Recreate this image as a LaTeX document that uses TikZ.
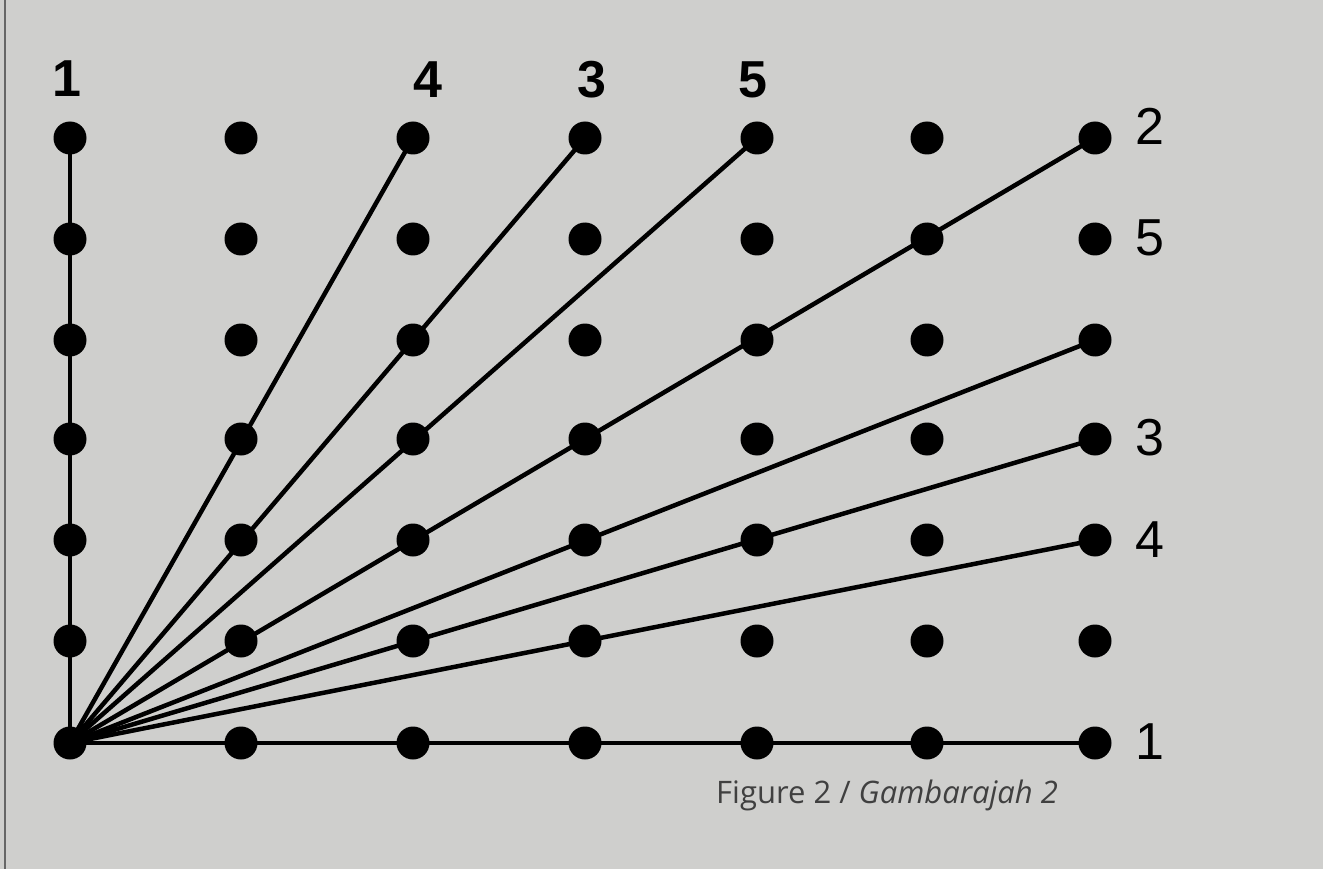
\documentclass[tikz,border=0pt]{standalone}
\usepackage{fontspec}
\setmainfont{Liberation Sans}
\newfontfamily\capfont{Open Sans}
\begin{document}
\begin{tikzpicture}[x=1pt,y=-1pt,
  dotnode/.style={circle,fill=black,inner sep=0pt,minimum size=33pt},
  ray/.style={line width=4.5pt,black},
  toplab/.style={font=\fontsize{52}{52}\selectfont\bfseries,inner sep=0pt},
  rightlab/.style={font=\fontsize{52}{52}\selectfont,inner sep=0pt},
  caption/.style={font=\capfont\fontsize{31}{31}\selectfont,text=black!75,inner sep=0pt,anchor=west}]
\definecolor{bg}{RGB}{207,207,205}
\useasboundingbox (0,0) rectangle (1323,869);
\fill[bg] (0,0) rectangle (1323,869);
\draw[line width=2pt,black!60] (5,0) -- (5,869);
% grid of dots
\foreach \i/\x in {0/70,1/241,2/413,3/585,4/757,5/927,6/1095}{
  \foreach \j/\y in {0/743,1/641,2/540,3/439,4/340,5/239,6/138}{
    \coordinate (p\i\j) at (\x,\y);
  }
}
% rays from the origin
\draw[ray] (p00) -- (p06);
\draw[ray] (p00) -- (p26);
\draw[ray] (p00) -- (p36);
\draw[ray] (p00) -- (p46);
\draw[ray] (p00) -- (p66);
\draw[ray] (p00) -- (p64);
\draw[ray] (p00) -- (p63);
\draw[ray] (p00) -- (p62);
\draw[ray] (p00) -- (p60);
\foreach \i in {0,...,6}{
  \foreach \j in {0,...,6}{
    \node[dotnode] (d\i\j) at (p\i\j) {};
  }
}
% labels
\node[toplab] (t1) at (67,79) {1};
\node[toplab] (t4) at (428,80) {4};
\node[toplab] (t3) at (592,80) {3};
\node[toplab] (t5) at (753,80) {5};
\node[rightlab] (r2) at (1150,126) {2};
\node[rightlab] (r5) at (1150,238) {5};
\node[rightlab] (r3) at (1150,438) {3};
\node[rightlab] (r4) at (1150,540) {4};
\node[rightlab] (r1) at (1150,742) {1};
\node[caption] (cap) at (716,795) {Figure 2 / \textit{Gambarajah 2}};
\end{tikzpicture}
\end{document}
